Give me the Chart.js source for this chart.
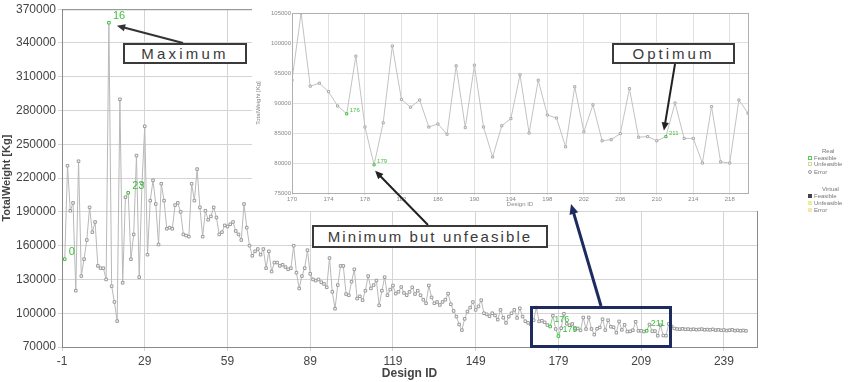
<!DOCTYPE html>
<html>
<head>
<meta charset="utf-8">
<script src="https://cdn.jsdelivr.net/npm/chart.js@4.4.0/dist/chart.umd.min.js"></script>
<style>
body { margin: 0; background: #fff; font-family: "Liberation Sans", Arial, sans-serif; }
#wrap { position: relative; width: 853px; height: 382px; overflow: hidden; }
#main { position: absolute; left: 0; top: 0; }
#insetBox { position: absolute; left: 252px; top: 7px; width: 506px; height: 204px; background: #fff; }
#overlay { position: absolute; left: 0; top: 0; pointer-events: none; }
.note { position: absolute; background: #fff; border: 2px solid #3a3a3a; color: #3a3a3a;
        font-size: 15px; text-align: center; box-sizing: border-box; white-space: nowrap; }
#zoomBox { position: absolute; left: 530px; top: 306px; width: 142px; height: 42px;
           border: 3px solid #1e2b5e; box-sizing: border-box; }
.lg { position: absolute; font-size: 6px; color: #777; white-space: nowrap; }
.ic { display: inline-block; width: 4px; height: 4px; margin-right: 2px; vertical-align: middle; box-sizing: border-box; }
</style>
</head>
<body>
<div id="wrap">
  <canvas id="main" width="853" height="382"></canvas>
  <div id="insetBox"><canvas id="inset" width="506" height="204"></canvas></div>
  <canvas id="overlay" width="853" height="382"></canvas>
  <div id="zoomBox"></div>
  <div class="note" style="left:123px;top:43px;width:124px;height:21px;line-height:17px;letter-spacing:3.2px;">Maximum</div>
  <div class="note" style="left:612px;top:43px;width:123px;height:21px;line-height:17px;letter-spacing:3px;">Optimum</div>
  <div class="note" style="left:312px;top:225px;width:236px;height:23px;line-height:19px;letter-spacing:2.1px;">Minimum but unfeasible</div>

  <div class="lg" style="left:822px;top:148px;">Real</div>
  <div class="lg" style="left:808px;top:155px;"><span class="ic" style="border:1px solid #5c5;"></span>Feasible</div>
  <div class="lg" style="left:808px;top:161px;"><span class="ic" style="border:1px solid #cd9;"></span>Unfeasible</div>
  <div class="lg" style="left:808px;top:169px;"><span class="ic" style="border:1px solid #999;border-radius:50%;"></span>Error</div>
  <div class="lg" style="left:822px;top:186px;">Virtual</div>
  <div class="lg" style="left:808px;top:193px;"><span class="ic" style="background:#444;"></span>Feasible</div>
  <div class="lg" style="left:808px;top:200px;"><span class="ic" style="background:#ee9;"></span>Unfeasible</div>
  <div class="lg" style="left:808px;top:207px;"><span class="ic" style="background:#f3e6b0;"></span>Error</div>
</div>
<script>
const designIds = [
  0, 1, 2, 3, 4, 5, 6, 7, 8, 9, 10, 11, 12, 13, 14, 15, 16, 17, 18, 19,
  20, 21, 22, 23, 24, 25, 26, 27, 28, 29, 30, 31, 32, 33, 34, 35, 36, 37, 38, 39,
  40, 41, 42, 43, 44, 45, 46, 47, 48, 49, 50, 51, 52, 53, 54, 55, 56, 57, 58, 59,
  60, 61, 62, 63, 64, 65, 66, 67, 68, 69, 70, 71, 72, 73, 74, 75, 76, 77, 78, 79,
  80, 81, 82, 83, 84, 85, 86, 87, 88, 89, 90, 91, 92, 93, 94, 95, 96, 97, 98, 99,
  100, 101, 102, 103, 104, 105, 106, 107, 108, 109, 110, 111, 112, 113, 114, 115, 116, 117, 118, 119,
  120, 121, 122, 123, 124, 125, 126, 127, 128, 129, 130, 131, 132, 133, 134, 135, 136, 137, 138, 139,
  140, 141, 142, 143, 144, 145, 146, 147, 148, 149, 150, 151, 152, 153, 154, 155, 156, 157, 158, 159,
  160, 161, 162, 163, 164, 165, 166, 167, 168, 169, 170, 171, 172, 173, 174, 175, 176, 177, 178, 179,
  180, 181, 182, 183, 184, 185, 186, 187, 188, 189, 190, 191, 192, 193, 194, 195, 196, 197, 198, 199,
  200, 201, 202, 203, 204, 205, 206, 207, 208, 209, 210, 211, 212, 213, 214, 215, 216, 217, 218, 219,
  220, 221, 222, 223, 224, 225, 226, 227, 228, 229, 230, 231, 232, 233, 234, 235, 236, 237, 238, 239,
  240, 241, 242, 243, 244, 245, 246, 247
];

const totalWeight = [
  148000, 231000, 191000, 198000, 120000, 235000, 133000, 148000, 165000, 194000,
  172000, 181000, 142000, 140000, 140000, 130000, 358000, 124000, 110000, 93000,
  290000, 127000, 203000, 207000, 148000, 170000, 240000, 132000, 215000, 266000,
  152000, 200000, 218000, 197000, 161000, 215000, 200000, 175000, 176000, 175000,
  196000, 198000, 190000, 170000, 169000, 168000, 215000, 200000, 228000, 194000,
  168000, 191000, 183000, 186000, 194000, 185000, 170000, 172000, 178000, 177000,
  179000, 181000, 173000, 170000, 165000, 197000, 176000, 160000, 151000, 155000,
  157000, 152000, 157000, 140000, 155000, 137000, 145000, 145000, 142000, 143000,
  141000, 139000, 140000, 160000, 136000, 122000, 133000, 140000, 156000, 135000,
  130000, 129000, 130000, 127500, 126000, 123000, 149000, 119000, 104000, 125000,
  142000, 142000, 117000, 116000, 128000, 139000, 113000, 115000, 111600, 120000,
  133000, 122000, 125000, 129000, 107000, 120000, 132000, 116000, 121000, 124600,
  117400, 119000, 123300, 118000, 116000, 119000, 123000, 117000, 120000, 116000,
  112000, 108800, 124600, 114000, 108800, 110000, 107300, 110000, 112000, 117400,
  108000, 102000, 97000, 90000, 85000, 95000, 101500, 105000, 110000, 103000,
  106000, 111600, 100000, 99000, 97300, 100000, 98000, 94300, 103000, 96000,
  91400, 97000, 100000, 103000, 95800, 104400, 97000, 92900, 91400, 90000,
  93800, 105000, 92800, 93300, 91900, 89500, 88200, 97800, 86000, 79700,
  86700, 99500, 90600, 89300, 90500, 86000, 86500, 84800, 96200, 85900,
  96300, 86000, 81000, 86200, 87400, 94700, 85000, 93800, 88000, 87500,
  82700, 92700, 85200, 89700, 83700, 83900, 84900, 92400, 84300, 84400,
  83700, 84400, 90000, 84100, 84100, 80000, 89400, 80200, 80000, 90500,
  88300, 86500, 86000, 85800, 86200, 85700, 85900, 85500, 85800, 85400,
  85600, 85900, 85300, 85500, 85200, 85700, 85000, 85300, 84800, 85100,
  84600, 84900, 85300, 84500, 84800, 84400, 84700, 84300
];

const feasibleIds = [0, 16, 23, 176, 179, 211];
const insetFeasibleIds = [176, 179, 211];

const mainXTicks = [-1, 29, 59, 89, 119, 149, 179, 209, 239];
const mainYTicks = [70000, 100000, 130000, 160000, 190000, 220000, 250000, 280000, 310000, 340000, 370000];
const insetXTicks = [170, 174, 178, 182, 186, 190, 194, 198, 202, 206, 210, 214, 218];
const insetYTicks = [75000, 80000, 85000, 90000, 95000, 100000, 105000];

const insetFirst = designIds.indexOf(170);
const insetLast = designIds.indexOf(220);
const insetIds = designIds.slice(insetFirst, insetLast + 1);
const insetWeight = totalWeight.slice(insetFirst, insetLast + 1);

const green = "#3fbf3f";
const plain = v => String(v);

// frame round the plot area
const frame = {
  id: "frame",
  afterDraw(chart, args, opts) {
    const a = chart.chartArea, c = chart.ctx;
    c.save();
    c.strokeStyle = opts.color || "#888";
    c.lineWidth = 1;
    c.strokeRect(a.left + 0.5, a.top + 0.5, a.right - a.left, a.bottom - a.top);
    c.restore();
  }
};

// green id tags next to feasible points
const tags = {
  id: "tags",
  afterDatasetsDraw(chart, args, opts) {
    const meta = chart.getDatasetMeta(0);
    const ids = chart.data.labels;
    const c = chart.ctx;
    c.save();
    c.fillStyle = green;
    c.textBaseline = "middle";
    opts.ids.forEach(id => {
      const i = ids.indexOf(id);
      if (i < 0) return;
      const p = meta.data[i];
      c.font = (opts.sizeFor ? opts.sizeFor(id) : opts.size) + "px 'Liberation Sans', Arial";
      c.fillText(String(id), p.x + opts.dx, p.y + opts.dy);
    });
    c.restore();
  }
};

const mainChart = new Chart(document.getElementById("main"), {
  type: "line",
  data: {
    labels: designIds,
    datasets: [{
      data: totalWeight,
      borderColor: "#b8b8b8",
      borderWidth: 1,
      pointStyle: "rect",
      pointRadius: 1.8,
      pointBorderWidth: 1,
      pointBackgroundColor: "#fff",
      pointBorderColor: ctx => feasibleIds.includes(designIds[ctx.dataIndex]) ? green : "#9a9a9a",
      segment: {
        borderColor: ctx => {
          const a = designIds[ctx.p0DataIndex], b = designIds[ctx.p1DataIndex];
          if (a >= 170 && (feasibleIds.includes(a) || feasibleIds.includes(b))) return "#7fd07f";
          return undefined;
        }
      },
      tension: 0
    }]
  },
  options: {
    responsive: false,
    animation: false,
    layout: { padding: { top: 6, right: 96, bottom: 0, left: 0 } },
    plugins: {
      legend: { display: false },
      tooltip: { enabled: false },
      frame: { color: "#8a8a8a" },
      tags: { ids: feasibleIds, dx: 4, dy: -7, sizeFor: id => id >= 170 ? 9 : 11 }
    },
    scales: {
      x: {
        type: "linear",
        min: -1,
        max: 251,
        afterBuildTicks: s => { s.ticks = mainXTicks.map(v => ({ value: v })); },
        afterFit: s => { s.height = 35; },
        grid: { color: "#d4d4d4", tickLength: 4 },
        border: { color: "#8a8a8a" },
        ticks: { color: "#444", font: { size: 12 }, padding: 3, maxRotation: 0, autoSkip: false, callback: plain },
        title: { display: true, text: "Design ID", color: "#444", font: { size: 12, weight: "bold" }, padding: { top: 0, bottom: 1 } }
      },
      y: {
        min: 70000,
        max: 370000,
        afterBuildTicks: s => { s.ticks = mainYTicks.map(v => ({ value: v })); },
        afterFit: s => { s.width = 62; },
        grid: { color: "#d4d4d4", tickLength: 4 },
        border: { color: "#8a8a8a" },
        ticks: { color: "#444", font: { size: 12 }, padding: 2, callback: plain },
        title: { display: true, text: "TotalWeight [Kg]", color: "#444", font: { size: 11, weight: "bold" }, padding: { top: 0, bottom: 0 } }
      }
    }
  },
  plugins: [frame, tags]
});

const insetChart = new Chart(document.getElementById("inset"), {
  type: "line",
  data: {
    labels: insetIds,
    datasets: [{
      data: insetWeight,
      borderColor: "#c2c2c2",
      borderWidth: 1,
      pointStyle: "rect",
      pointRadius: 1.5,
      pointBorderWidth: 1,
      pointBackgroundColor: "#fff",
      pointBorderColor: ctx => insetFeasibleIds.includes(insetIds[ctx.dataIndex]) ? green : "#aaa",
      tension: 0
    }]
  },
  options: {
    responsive: false,
    animation: false,
    layout: { padding: { top: 6, right: 10, bottom: 0, left: 0 } },
    plugins: {
      legend: { display: false },
      tooltip: { enabled: false },
      frame: { color: "#b0b0b0" },
      tags: { ids: insetFeasibleIds, dx: 3, dy: -3, size: 6 }
    },
    scales: {
      x: {
        type: "linear",
        min: 170,
        max: 220,
        afterBuildTicks: s => { s.ticks = insetXTicks.map(v => ({ value: v })); },
        afterFit: s => { s.height = 18; },
        grid: { color: "#e0e0e0", tickLength: 2 },
        border: { color: "#aaa" },
        ticks: { color: "#888", font: { size: 6 }, padding: 1, maxRotation: 0, autoSkip: false, callback: plain },
        title: { display: true, text: "Design ID", color: "#888", font: { size: 6 }, padding: { top: 0, bottom: 3 } }
      },
      y: {
        min: 75000,
        max: 105000,
        afterBuildTicks: s => { s.ticks = insetYTicks.map(v => ({ value: v })); },
        afterFit: s => { s.width = 40; },
        grid: { color: "#e0e0e0", tickLength: 0 },
        border: { color: "#aaa" },
        ticks: { color: "#888", font: { size: 6 }, padding: 1, callback: plain },
        title: { display: true, text: "TotalWeight [Kg]", color: "#888", font: { size: 6 }, padding: { top: 3, bottom: 0 } }
      }
    }
  },
  plugins: [frame, tags]
});

// arrows over both charts
const ov = document.getElementById("overlay").getContext("2d");
const insetLeft = 252, insetTop = 7;

function arrow(x1, y1, x2, y2, color, w, head) {
  const a = Math.atan2(y2 - y1, x2 - x1);
  ov.strokeStyle = color;
  ov.fillStyle = color;
  ov.lineWidth = w;
  ov.beginPath();
  ov.moveTo(x1, y1);
  ov.lineTo(x2 - head * 0.7 * Math.cos(a), y2 - head * 0.7 * Math.sin(a));
  ov.stroke();
  ov.beginPath();
  ov.moveTo(x2, y2);
  ov.lineTo(x2 - head * Math.cos(a - 0.42), y2 - head * Math.sin(a - 0.42));
  ov.lineTo(x2 - head * Math.cos(a + 0.42), y2 - head * Math.sin(a + 0.42));
  ov.closePath();
  ov.fill();
}

function mainPt(id) {
  const i = designIds.indexOf(id);
  return { x: mainChart.scales.x.getPixelForValue(id), y: mainChart.scales.y.getPixelForValue(totalWeight[i]) };
}
function insetPt(id) {
  const i = insetIds.indexOf(id);
  return {
    x: insetLeft + insetChart.scales.x.getPixelForValue(id),
    y: insetTop + insetChart.scales.y.getPixelForValue(insetWeight[i])
  };
}

const pMax = mainPt(16);
arrow(183, 43, pMax.x + 8, pMax.y + 3, "#333", 2, 9);

const pOpt = insetPt(211);
arrow(675, 64, pOpt.x - 2, pOpt.y - 6, "#222", 2, 9);

const pMin = insetPt(179);
arrow(428, 225, pMin.x + 1, pMin.y + 6, "#222", 2, 9);

arrow(601, 306, 571, 204, "#1e2b5e", 3, 11);
</script>
</body>
</html>
